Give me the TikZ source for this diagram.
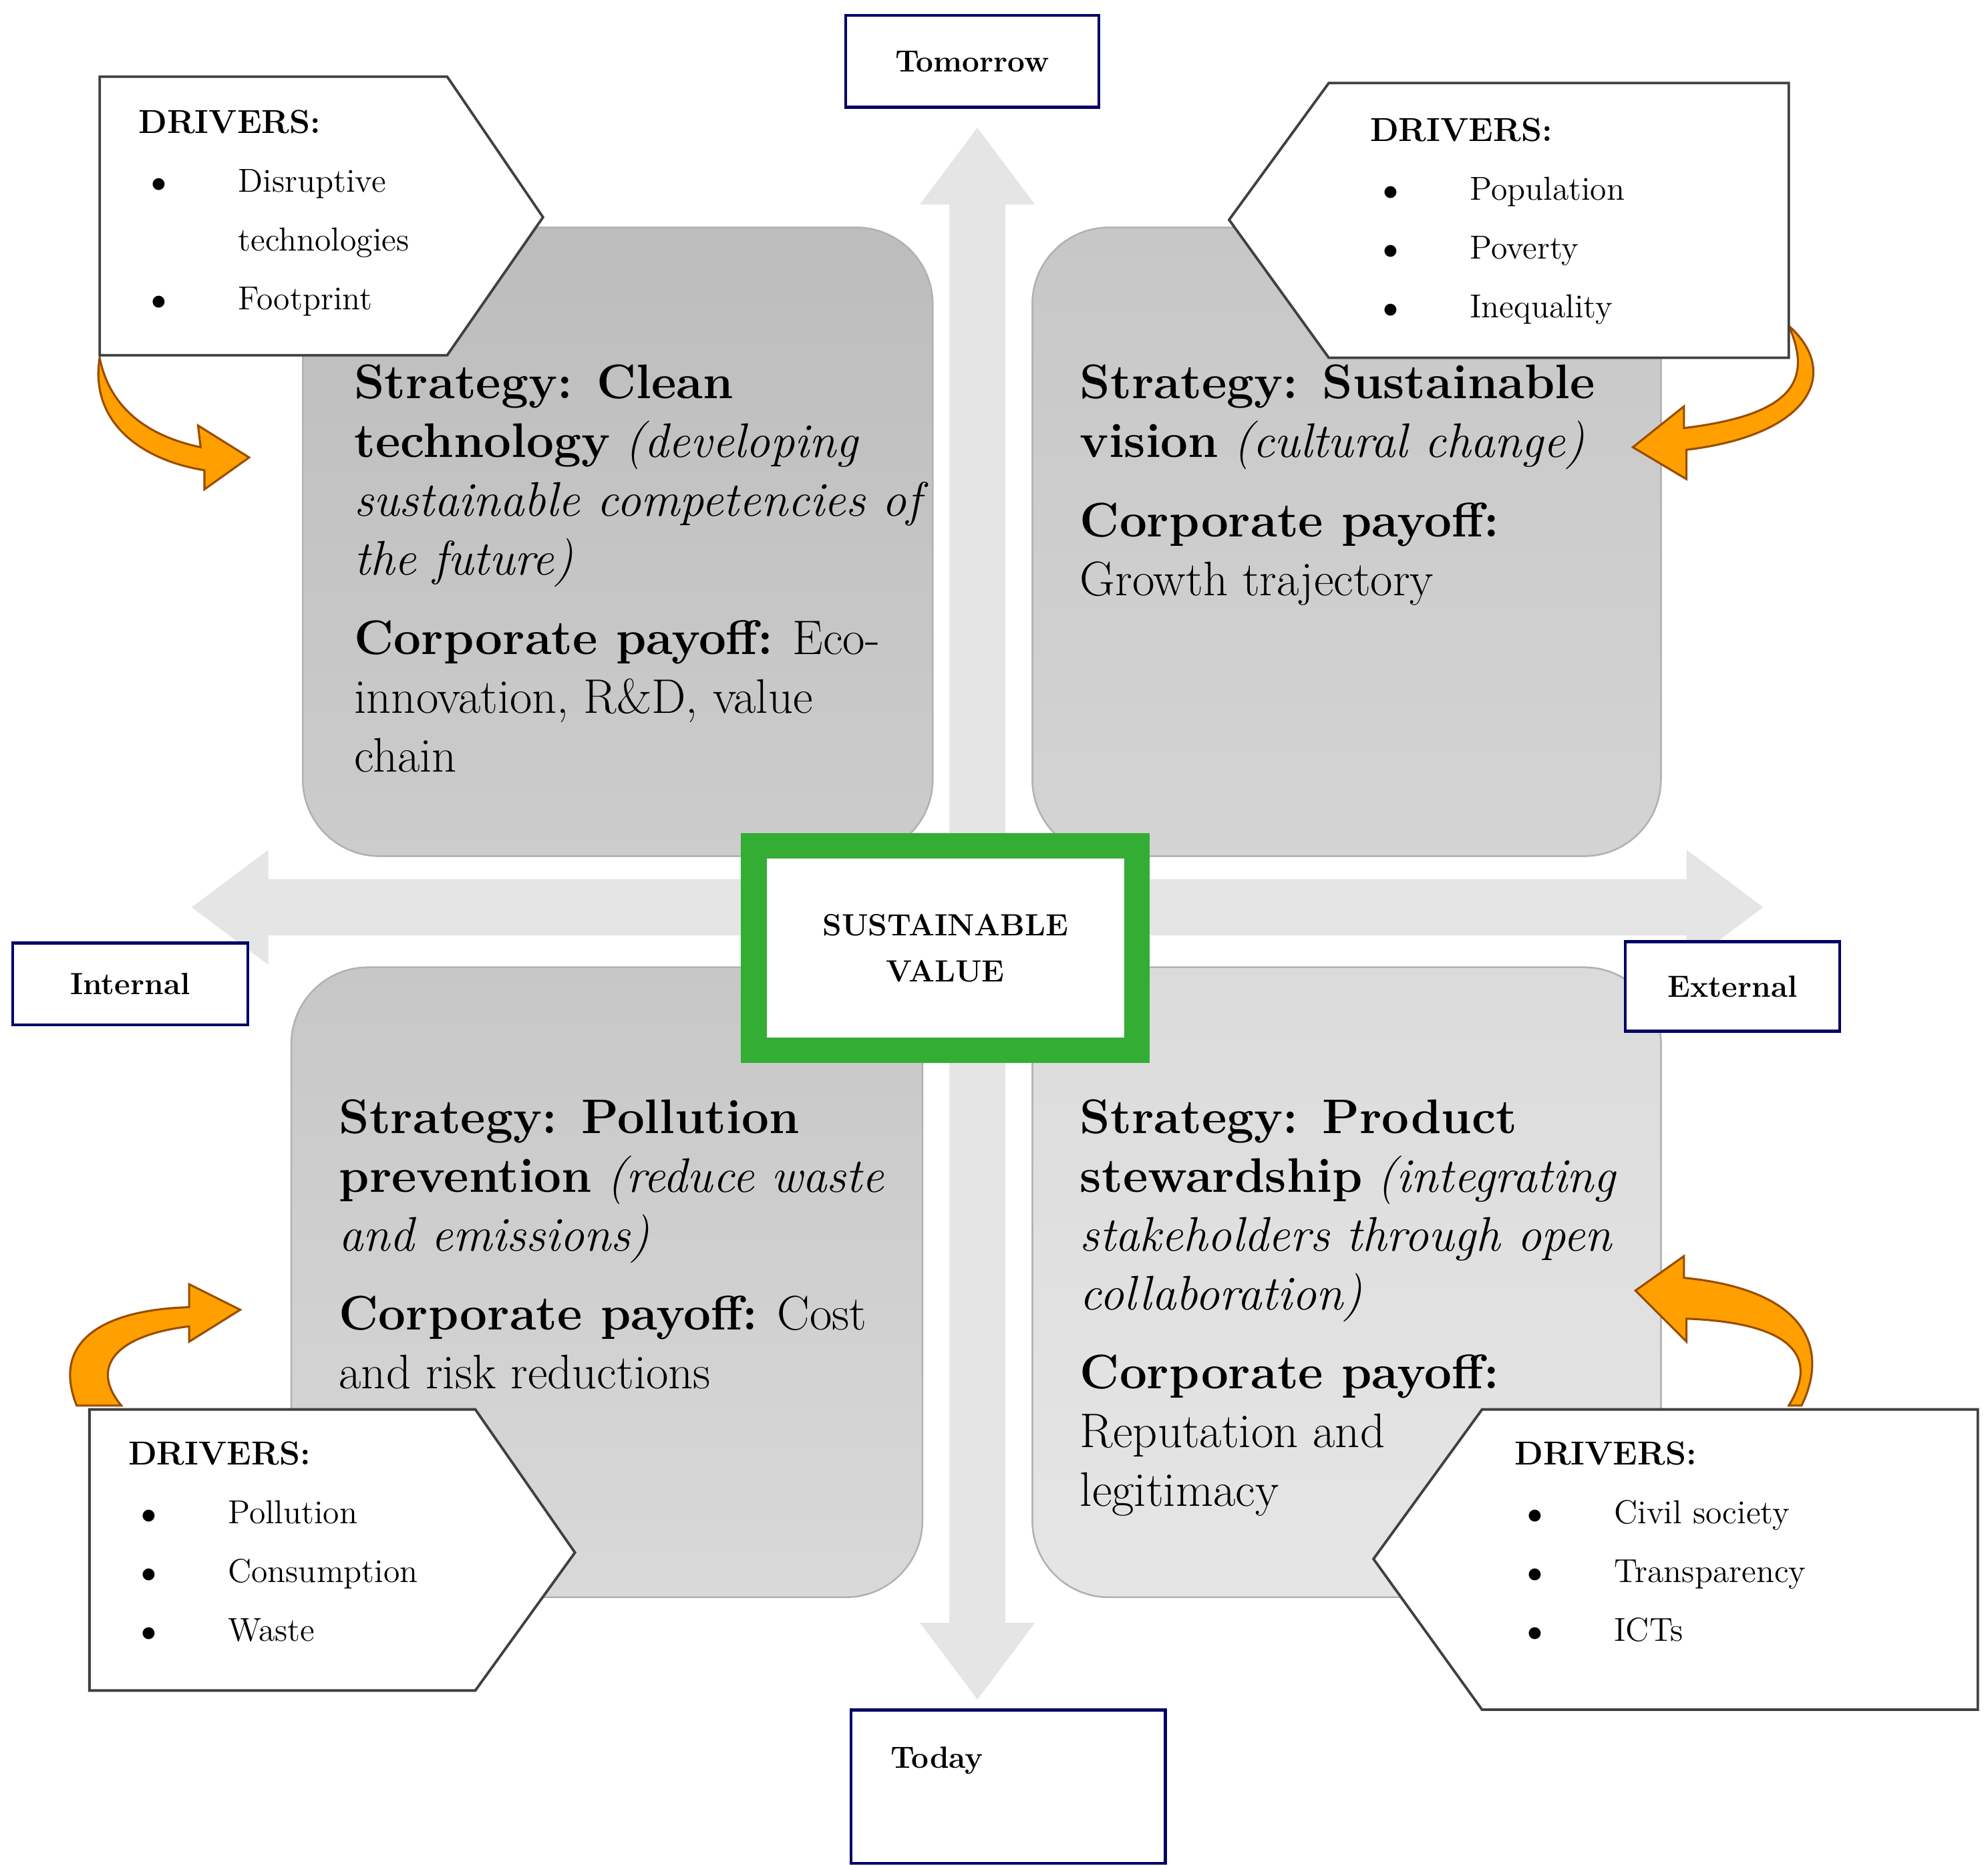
\documentclass[tikz,border=0pt]{standalone}
\usetikzlibrary{arrows.meta}
\begin{document}
\begin{tikzpicture}[x=0.5pt,y=-0.5pt,
  quad/.style={draw=gray!60,rounded corners=30pt,line width=0.6pt},
  lbl/.style={draw=blue!40!black,line width=1.2pt,fill=white,font=\bfseries\large},
  drv/.style={draw=black!75,line width=1pt,fill=white},
  txt/.style={anchor=north west,align=left,font=\fontsize{19}{23}\selectfont,inner sep=0pt},
  dtx/.style={anchor=north west,align=left,font=\fontsize{13}{23}\selectfont,inner sep=0pt},
  carr/.style={draw=orange!60!black,fill=orange!75!yellow,line width=0.8pt}]
\useasboundingbox (0,0) rectangle (1556,1460);
% axis arrows
\fill[black!10] (743,1250) -- (743,160) -- (720,160) -- (765,100) -- (810,160) -- (787,160) -- (787,1270) -- (810,1270) -- (765,1330) -- (720,1270) -- (743,1270) -- cycle;
\fill[black!10] (210,688) -- (1320,688) -- (1320,665) -- (1380,710) -- (1320,755) -- (1320,732) -- (210,732) -- (210,755) -- (150,710) -- (210,665) -- cycle;
% quadrants
\shade[quad,top color=black!26,bottom color=black!20] (237,178) rectangle (730,670);
\draw[quad] (237,178) rectangle (730,670);
\shade[quad,top color=black!22,bottom color=black!17] (808,178) rectangle (1300,670);
\draw[quad] (808,178) rectangle (1300,670);
\shade[quad,top color=black!22,bottom color=black!15] (228,757) rectangle (722,1250);
\draw[quad] (228,757) rectangle (722,1250);
\shade[quad,top color=black!14,bottom color=black!10] (808,757) rectangle (1300,1250);
\draw[quad] (808,757) rectangle (1300,1250);
% center
\node[draw=green!60!black!80,line width=10pt,fill=white,minimum width=150pt,minimum height=80pt,font=\bfseries\large,align=center] (sv) at (740,742) {SUSTAINABLE\\[4pt]VALUE};
% labels
\node[lbl,minimum width=99pt,minimum height=36pt] (tom) at (761,48) {Tomorrow};
\node[lbl,minimum width=92pt,minimum height=32pt] (int) at (102,770) {Internal};
\node[lbl,minimum width=84pt,minimum height=35pt] (ext) at (1356,772) {External};
\node[lbl,minimum width=123pt,minimum height=60pt,anchor=north west,inner sep=0pt] (tod) at (665,1337) {};
\node[font=\bfseries\large,anchor=north west] (todt) at (690,1360) {Today};
% quadrant texts
\node[txt] (t1) at (277,285) {\textbf{Strategy: Clean}\\ \textbf{technology} \textit{(developing}\\ \textit{sustainable competencies of}\\ \textit{the future)}\\[8pt]\textbf{Corporate payoff:} Eco-\\ innovation, R\&D, value\\ chain};
\node[txt] (t2) at (845,285) {\textbf{Strategy: Sustainable}\\ \textbf{vision} \textit{(cultural change)}\\[8pt]\textbf{Corporate payoff:}\\ Growth trajectory};
\node[txt] (t3) at (265,860) {\textbf{Strategy: Pollution}\\ \textbf{prevention} \textit{(reduce waste}\\ \textit{and emissions)}\\[8pt]\textbf{Corporate payoff:} Cost\\ and risk reductions};
\node[txt] (t4) at (845,860) {\textbf{Strategy: Product}\\ \textbf{stewardship} \textit{(integrating}\\ \textit{stakeholders through open}\\ \textit{collaboration)}\\[8pt]\textbf{Corporate payoff:}\\ Reputation and\\ legitimacy};
% curved arrows
\path[carr] (78,280) .. controls (70,330) and (110,360) .. (160,368) -- (160,383) -- (195,358) -- (155,333) -- (157,350) .. controls (110,340) and (85,315) .. cycle;
\path[carr] (1400,255) .. controls (1440,290) and (1420,340) .. (1320,352) -- (1320,375) -- (1278,350) -- (1318,318) -- (1318,335) .. controls (1400,325) and (1420,300) .. cycle;
\path[carr] (60,1100) .. controls (40,1050) and (80,1025) .. (148,1023) -- (148,1005) -- (188,1025) -- (148,1050) -- (148,1038) .. controls (90,1045) and (70,1070) .. (95,1100) -- cycle;
\path[carr] (1400,1100) .. controls (1425,1060) and (1400,1035) .. (1320,1032) -- (1320,1050) -- (1280,1010) -- (1318,983) -- (1318,1000) .. controls (1420,1010) and (1430,1060) .. (1410,1100) -- cycle;
% drivers boxes
\draw[drv] (78,60) -- (350,60) -- (425,170) -- (350,278) -- (78,278) -- cycle;
\draw[drv] (1400,65) -- (1400,280) -- (1040,280) -- (962,172) -- (1040,65) -- cycle;
\draw[drv] (70,1103) -- (372,1103) -- (450,1215) -- (372,1323) -- (70,1323) -- cycle;
\draw[drv] (1548,1103) -- (1548,1338) -- (1160,1338) -- (1075,1220) -- (1160,1103) -- cycle;
\node[dtx] (d1) at (108,86) {\textbf{DRIVERS:}\\ \hspace*{5pt}$\bullet$\hspace{28pt}Disruptive\\ \hspace*{39pt}technologies\\ \hspace*{5pt}$\bullet$\hspace{28pt}Footprint};
\node[dtx] (d2) at (1072,92) {\textbf{DRIVERS:}\\ \hspace*{5pt}$\bullet$\hspace{28pt}Population\\ \hspace*{5pt}$\bullet$\hspace{28pt}Poverty\\ \hspace*{5pt}$\bullet$\hspace{28pt}Inequality};
\node[dtx] (d3) at (100,1128) {\textbf{DRIVERS:}\\ \hspace*{5pt}$\bullet$\hspace{28pt}Pollution\\ \hspace*{5pt}$\bullet$\hspace{28pt}Consumption\\ \hspace*{5pt}$\bullet$\hspace{28pt}Waste};
\node[dtx] (d4) at (1185,1128) {\textbf{DRIVERS:}\\ \hspace*{5pt}$\bullet$\hspace{28pt}Civil society\\ \hspace*{5pt}$\bullet$\hspace{28pt}Transparency\\ \hspace*{5pt}$\bullet$\hspace{28pt}ICTs};
\end{tikzpicture}
\end{document}
